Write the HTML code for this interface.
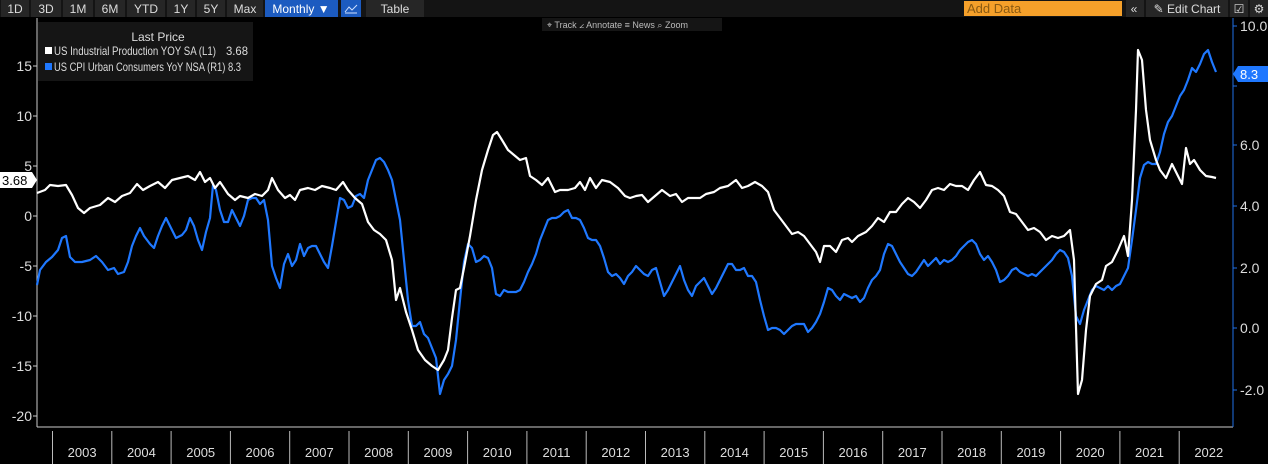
<!DOCTYPE html>
<html><head><meta charset="utf-8"><style>
body{margin:0;background:#000;width:1268px;height:464px;overflow:hidden;font-family:"Liberation Sans",sans-serif;}
svg{display:block}
</style></head><body>
<svg width="1268" height="464" xmlns="http://www.w3.org/2000/svg" font-family="Liberation Sans, sans-serif">
<rect width="1268" height="464" fill="#000"/>
<rect x="0" y="0" width="1268" height="17" fill="#141414"/>
<g fill="#262626">
<rect x="1" y="0" width="28" height="17"/><rect x="31" y="0" width="30" height="17"/><rect x="63" y="0" width="30" height="17"/><rect x="95" y="0" width="30" height="17"/><rect x="127" y="0" width="38" height="17"/><rect x="167" y="0" width="28" height="17"/><rect x="197" y="0" width="28" height="17"/><rect x="227" y="0" width="36" height="17"/><rect x="366" y="0" width="58" height="17"/>
<rect x="1126" y="0" width="18" height="17"/><rect x="1146" y="0" width="82" height="17"/><rect x="1230" y="0" width="18" height="17"/><rect x="1250" y="0" width="18" height="17"/>
</g>
<rect x="265" y="0" width="73" height="17" fill="#1c5bc0"/>
<rect x="341" y="0" width="20" height="17" fill="#1c5bc0"/>
<polyline points="345,12 349,7 352,10 357,5" fill="none" stroke="#cfe0ff" stroke-width="1"/>
<line x1="345" y1="13" x2="357" y2="13" stroke="#cfe0ff"/>
<g fill="#ddd" font-size="12" text-anchor="middle">
<text x="15" y="13">1D</text><text x="46" y="13">3D</text><text x="78" y="13">1M</text><text x="110" y="13">6M</text><text x="146" y="13">YTD</text><text x="181" y="13">1Y</text><text x="211" y="13">5Y</text><text x="245" y="13">Max</text><text x="301" y="13" fill="#fff">Monthly ▼</text><text x="395" y="13">Table</text>
<text x="1134" y="13">«</text><text x="1187" y="13">✎ Edit Chart</text><text x="1239" y="13">☑</text><text x="1259" y="13">⚙</text>
</g>
<rect x="964" y="1" width="158" height="15" fill="#f5a02a"/>
<text x="967" y="13" font-size="13" fill="#8a5a12">Add Data</text>
<rect x="542" y="18" width="180" height="13" fill="#151515"/>
<text x="547" y="28" font-size="9" fill="#bbb">⌖ Track  ∠ Annotate  ≡ News  ⌕ Zoom</text>
<line x1="37" y1="18" x2="37" y2="427" stroke="#ccc"/>
<line x1="37" y1="427" x2="1233" y2="427" stroke="#ccc"/>
<line x1="1233" y1="18" x2="1233" y2="427" stroke="#1f6fe6"/>
<g stroke="#ccc">
<line x1="33" y1="66" x2="37" y2="66"/><line x1="33" y1="116" x2="37" y2="116"/><line x1="33" y1="166" x2="37" y2="166"/><line x1="33" y1="216" x2="37" y2="216"/><line x1="33" y1="266" x2="37" y2="266"/><line x1="33" y1="316" x2="37" y2="316"/><line x1="33" y1="366" x2="37" y2="366"/><line x1="33" y1="416" x2="37" y2="416"/>
</g>
<g fill="#ddd" font-size="14" text-anchor="end">
<text x="32" y="71">15</text><text x="32" y="121">10</text><text x="32" y="171">5</text><text x="32" y="221">0</text><text x="32" y="271">-5</text><text x="32" y="321">-10</text><text x="32" y="371">-15</text><text x="32" y="421">-20</text>
</g>
<g stroke="#1f6fe6"><line x1="1233" y1="26" x2="1237" y2="26"/><line x1="1233" y1="86" x2="1237" y2="86"/><line x1="1233" y1="145" x2="1237" y2="145"/><line x1="1233" y1="206" x2="1237" y2="206"/><line x1="1233" y1="268" x2="1237" y2="268"/><line x1="1233" y1="328" x2="1237" y2="328"/><line x1="1233" y1="390" x2="1237" y2="390"/></g>
<g fill="#ddd" font-size="14">
<text x="1240" y="31">10.0</text><text x="1240" y="150">6.0</text><text x="1240" y="211">4.0</text><text x="1240" y="273">2.0</text><text x="1240" y="333">0.0</text><text x="1240" y="395">-2.0</text>
</g>
<g stroke="#bbb" id="yr"></g>
<g fill="#ddd" font-size="13" text-anchor="middle" id="yl"></g>
<polyline fill="none" stroke="#1f78ff" stroke-width="2.2" stroke-linejoin="round" points="37,285 40,270 46,262 52,257 58,250 62,238 66,236 70,257 75,262 82,262 90,260 96,256 102,262 108,270 114,268 118,274 124,272 128,262 132,246 136,236 140,228 144,236 150,244 154,248 158,236 162,226 166,218 170,226 176,238 182,235 186,230 190,218 194,226 198,240 202,250 206,232 210,218 213,185 216,190 220,210 224,222 228,222 232,210 236,218 240,226 244,216 248,200 252,198 256,198 260,204 264,200 268,220 272,266 276,278 280,288 284,264 288,254 292,266 296,260 300,244 304,256 308,248 312,246 316,246 320,254 324,262 328,268 332,246 336,222 340,198 344,200 348,208 352,206 356,196 360,194 364,198 368,180 372,170 376,160 380,158 384,162 388,170 392,180 396,200 400,220 404,260 408,300 412,326 416,326 420,322 424,334 428,338 432,348 436,358 440,394 444,380 448,374 452,366 456,340 460,300 464,262 468,244 472,248 476,262 480,260 484,256 488,258 492,268 496,294 500,296 504,290 508,292 512,292 516,292 520,290 524,282 528,272 532,264 536,254 540,240 544,230 548,220 552,218 556,218 560,216 564,212 568,210 572,218 576,218 580,220 584,228 588,238 592,240 596,240 600,246 604,258 608,272 612,276 616,274 620,278 624,284 628,276 632,272 636,266 640,270 644,274 648,276 652,270 656,268 660,282 664,296 668,290 672,282 676,274 680,266 684,280 688,290 692,296 696,286 700,282 704,278 708,286 712,294 716,288 720,280 724,272 728,264 732,264 736,270 740,270 744,268 748,276 752,276 756,282 760,300 764,316 768,330 772,328 776,328 780,330 784,334 788,330 792,326 796,324 800,324 804,324 808,332 812,328 816,322 820,314 824,302 828,288 832,290 836,296 840,300 844,294 848,296 852,298 856,296 860,302 864,298 868,288 872,280 876,276 880,270 884,254 888,244 892,246 896,254 900,262 904,268 908,274 912,276 916,272 920,266 924,260 928,266 932,262 936,258 940,264 944,260 948,262 952,260 956,256 960,250 964,246 968,242 972,240 976,244 980,254 984,260 988,256 992,262 996,270 1000,282 1004,280 1008,276 1012,270 1016,268 1020,272 1024,274 1028,276 1032,274 1036,276 1040,272 1044,268 1048,264 1052,260 1056,254 1060,250 1064,252 1068,258 1072,276 1076,316 1080,324 1084,310 1088,300 1092,290 1096,286 1100,288 1104,290 1108,286 1112,290 1116,286 1120,284 1124,276 1128,268 1132,240 1136,210 1140,178 1144,165 1148,162 1152,164 1156,164 1160,152 1164,134 1168,122 1172,116 1176,106 1180,96 1184,90 1188,80 1192,68 1196,72 1200,64 1204,54 1208,50 1212,62 1216,72"/>
<polyline fill="none" stroke="#fff" stroke-width="2.2" stroke-linejoin="round" points="37,193 45,190 50,185 58,186 66,185 72,195 78,208 84,213 90,208 100,205 108,198 115,202 122,196 130,193 137,184 143,190 150,186 158,182 165,188 172,180 180,178 188,176 195,180 200,172 205,182 210,178 215,188 220,182 228,194 235,200 240,196 248,198 255,194 262,196 268,190 272,178 278,190 285,198 290,195 295,200 300,190 308,188 315,190 322,186 330,188 336,190 343,182 348,190 355,198 362,204 368,222 374,230 380,234 386,240 392,260 396,300 400,288 406,312 412,330 418,350 425,360 432,366 438,370 444,360 448,350 452,318 456,290 460,288 464,268 470,236 476,200 482,170 488,150 493,135 497,132 502,140 508,150 514,155 520,160 526,158 530,176 536,180 542,185 548,178 555,192 560,190 568,190 575,188 580,182 585,190 590,178 596,188 602,180 610,182 618,188 625,196 630,198 636,196 642,195 648,202 655,196 662,190 670,196 676,194 682,202 688,198 694,198 700,198 706,194 714,192 720,188 728,186 736,180 742,188 748,186 755,182 762,186 768,192 774,210 780,218 786,226 792,234 798,232 804,236 810,244 816,252 820,262 824,246 830,246 836,252 842,240 848,238 852,242 858,236 866,232 872,226 878,218 884,222 890,212 896,212 902,204 908,198 914,202 920,208 926,200 932,190 938,188 944,190 950,184 956,186 962,186 968,190 974,180 980,172 986,185 992,186 998,190 1004,196 1010,212 1016,214 1022,222 1028,230 1034,228 1040,232 1046,240 1052,236 1058,238 1064,236 1070,230 1074,260 1078,394 1082,380 1086,330 1090,296 1096,284 1102,280 1106,266 1112,262 1118,250 1124,236 1128,256 1132,200 1136,110 1138,50 1142,60 1146,110 1150,140 1156,160 1160,170 1166,178 1172,164 1178,176 1182,184 1186,148 1190,164 1194,160 1200,170 1206,176 1212,177 1216,178"/>
<rect x="38" y="22" width="215" height="59" fill="#151515"/>
<text x="158" y="41" font-size="12" fill="#ddd" text-anchor="middle">Last Price</text>
<rect x="45" y="47" width="7" height="7" fill="#fff"/>
<text x="54" y="55" font-size="12" fill="#ddd" textLength="162" lengthAdjust="spacingAndGlyphs">US Industrial Production YOY SA  (L1)</text>
<text x="226" y="55" font-size="12" fill="#ddd" textLength="22" lengthAdjust="spacingAndGlyphs">3.68</text>
<rect x="45" y="63" width="7" height="7" fill="#1f78ff"/>
<text x="54" y="71" font-size="12" fill="#ddd" textLength="187" lengthAdjust="spacingAndGlyphs">US CPI Urban Consumers YoY NSA  (R1) 8.3</text>
<polygon points="0,172 32,172 37,180 32,188 0,188" fill="#fff"/>
<text x="2" y="185" font-size="13" fill="#000">3.68</text>
<polygon points="1233,74 1238,66 1268,66 1268,82 1238,82" fill="#1f78ff"/>
<text x="1240" y="79" font-size="13" fill="#fff">8.3</text>
<script>
var yr=document.getElementById('yr'),yl=document.getElementById('yl'),ns='http://www.w3.org/2000/svg';
for(var i=0;i<20;i++){var x=52.5+59.3*i;var l=document.createElementNS(ns,'line');l.setAttribute('x1',x);l.setAttribute('x2',x);l.setAttribute('y1',431);l.setAttribute('y2',464);yr.appendChild(l);
var t=document.createElementNS(ns,'text');t.setAttribute('x',x+29.6);t.setAttribute('y',457);t.textContent=2003+i;yl.appendChild(t);}
</script>
</svg>
</body></html>
